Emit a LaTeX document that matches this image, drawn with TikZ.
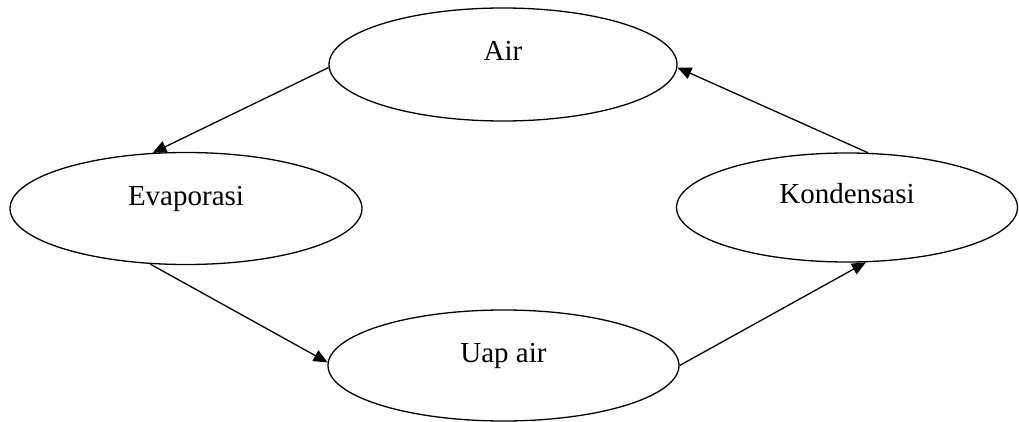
\documentclass[tikz,border=0pt]{standalone}
\usepackage{fontspec}
\setmainfont{Liberation Serif}
\usetikzlibrary{shapes.geometric,arrows.meta}
\begin{document}
\begin{tikzpicture}[x=1pt,y=-1pt,
  stage/.style={ellipse, draw, line width=1.3pt, fill=white, inner sep=2pt,
    text height=20pt, text depth=27pt,
    font=\fontsize{29}{34}\selectfont},
  flow/.style={line width=1.3pt, -{Triangle[length=14pt,width=12pt]}}]
\useasboundingbox[fill=white] (0,0) rectangle (1019,422);
\node[stage, minimum width=348pt, minimum height=113pt] (air) at (503,64.5) {Air};
\node[stage, minimum width=352pt, minimum height=112pt] (evap) at (186,208.5) {Evaporasi};
\node[stage, minimum width=341pt, minimum height=109pt] (kond) at (847,207.5) {Kondensasi};
\node[stage, minimum width=351pt, minimum height=111pt] (uap) at (503.5,365.5) {Uap air};
\draw[flow] (air.181.5) -- (evap.121);
\draw[flow] (evap.237) -- (uap.179.5);
\draw[flow] (uap.0) -- (kond.-71.6);
\draw[flow] (kond.69) -- (air.-1.5);
\end{tikzpicture}
\end{document}
